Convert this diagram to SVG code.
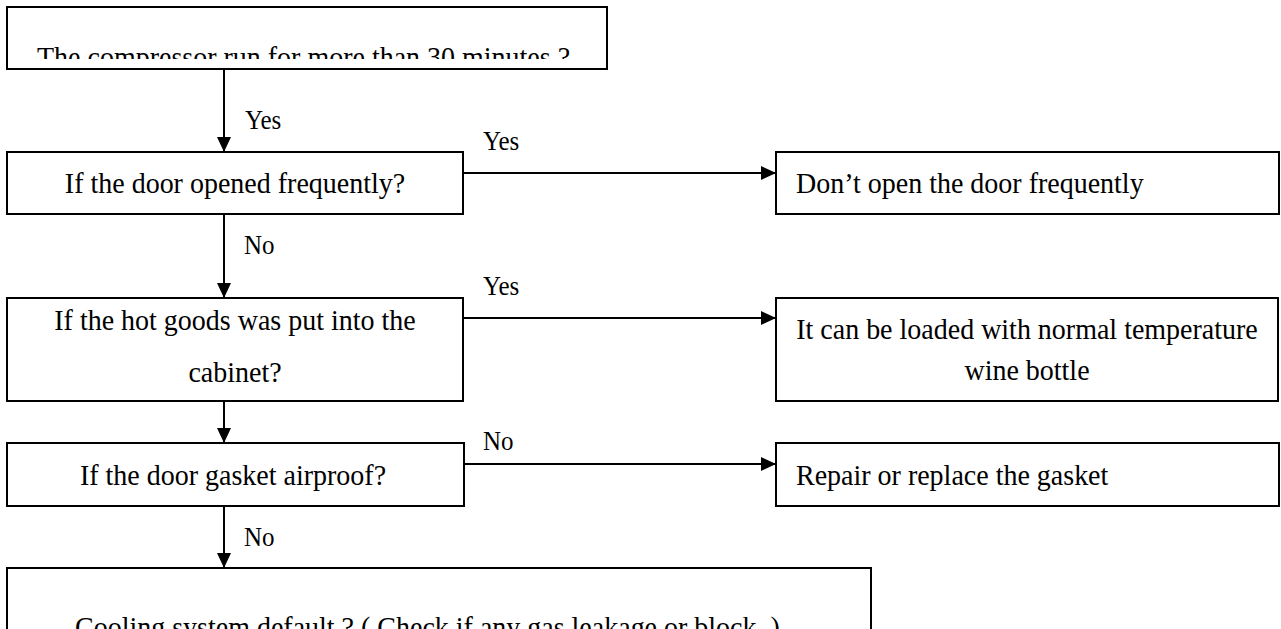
<svg xmlns="http://www.w3.org/2000/svg" width="1281" height="629" viewBox="0 0 1281 629">
<style>
.box{fill:#fff;stroke:#000;stroke-width:2}
.t{font-family:"Liberation Serif","Times New Roman",serif;font-size:28px;fill:#000}
.lbl{font-family:"Liberation Serif","Times New Roman",serif;font-size:25px;fill:#000}
.c{fill:none;stroke:#000;stroke-width:2}
</style>
<defs>
<marker id="ah" markerUnits="userSpaceOnUse" markerWidth="15" markerHeight="14" refX="15" refY="7" orient="auto">
<path d="M0,0 L15,7 L0,14 z" fill="#000"/>
</marker>
<clipPath id="clipTop"><rect x="7" y="7" width="600" height="52"/></clipPath>
</defs>
<rect width="1281" height="629" fill="#fff"/>
<g id="n-compressor">
<rect class="box" x="7" y="7" width="600" height="62"/>
<g clip-path="url(#clipTop)">
<text class="t" x="37" y="67" transform="matrix(1 0 0 1.08 0 -5.36)">The compressor run for more than 30 minutes ?</text>
</g>
</g>
<g id="n-door">
<rect class="box" x="7" y="152" width="456" height="62"/>
<text class="t" x="235" y="193" text-anchor="middle" transform="matrix(1 0 0 1.08 0 -15.44)">If the door opened frequently?</text>
</g>
<g id="n-dont">
<rect class="box" x="776" y="152" width="503" height="62"/>
<text class="t" x="796" y="193" transform="matrix(1 0 0 1.08 0 -15.44)">Don’t open the door frequently</text>
</g>
<g id="n-hot">
<rect class="box" x="7" y="298" width="456" height="103"/>
<text class="t" x="235" y="330" text-anchor="middle" transform="matrix(1 0 0 1.08 0 -26.4)">If the hot goods was put into the</text>
<text class="t" x="235" y="382" text-anchor="middle" transform="matrix(1 0 0 1.08 0 -30.56)">cabinet?</text>
</g>
<g id="n-load">
<rect class="box" x="776" y="298" width="502" height="103"/>
<text class="t" x="1027" y="339" text-anchor="middle" transform="matrix(1 0 0 1.08 0 -27.12)">It can be loaded with normal temperature</text>
<text class="t" x="1027" y="380" text-anchor="middle" transform="matrix(1 0 0 1.08 0 -30.4)">wine bottle</text>
</g>
<g id="n-gasket">
<rect class="box" x="7" y="443" width="457" height="63"/>
<text class="t" x="233" y="485" text-anchor="middle" transform="matrix(1 0 0 1.08 0 -38.8)">If the door gasket airproof?</text>
</g>
<g id="n-repair">
<rect class="box" x="776" y="443" width="503" height="63"/>
<text class="t" x="796" y="485" transform="matrix(1 0 0 1.08 0 -38.8)">Repair or replace the gasket</text>
</g>
<g id="n-cooling">
<rect class="box" x="7" y="568" width="864" height="90"/>
<text class="t" x="75" y="637" transform="matrix(1 0 0 1.08 0 -50.96)">Cooling system default ? ( Check if any gas leakage or block. )</text>
</g>
<g id="connectors">
<path class="c" d="M224,69 V152" marker-end="url(#ah)"/>
<path class="c" d="M463,173 H776" marker-end="url(#ah)"/>
<path class="c" d="M224,214 V298" marker-end="url(#ah)"/>
<path class="c" d="M463,318 H776" marker-end="url(#ah)"/>
<path class="c" d="M224,401 V443" marker-end="url(#ah)"/>
<path class="c" d="M464,464 H776" marker-end="url(#ah)"/>
<path class="c" d="M224,506 V568" marker-end="url(#ah)"/>
<text class="lbl" x="245" y="129" transform="matrix(1 0 0 1.08 0 -10.32)">Yes</text>
<text class="lbl" x="483" y="150" transform="matrix(1 0 0 1.08 0 -12)">Yes</text>
<text class="lbl" x="244" y="254" transform="matrix(1 0 0 1.08 0 -20.32)">No</text>
<text class="lbl" x="483" y="295" transform="matrix(1 0 0 1.08 0 -23.6)">Yes</text>
<text class="lbl" x="483" y="450" transform="matrix(1 0 0 1.08 0 -36)">No</text>
<text class="lbl" x="244" y="546" transform="matrix(1 0 0 1.08 0 -43.68)">No</text>
</g>
</svg>
